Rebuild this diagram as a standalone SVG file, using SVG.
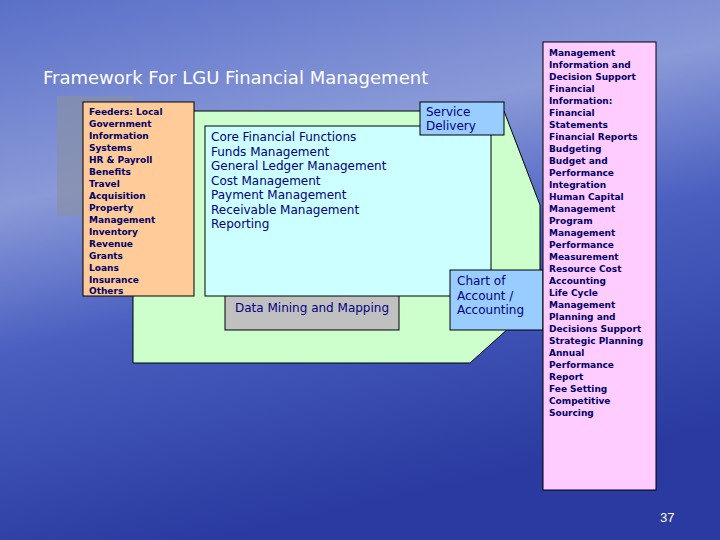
<svg xmlns="http://www.w3.org/2000/svg" width="720" height="540" viewBox="0 0 720 540">
<defs>
<linearGradient id="bg" x1="0" y1="0" x2="0.3" y2="1">
<stop offset="0" stop-color="#5a6fc8"/><stop offset="0.35" stop-color="#8a9ad8"/><stop offset="0.6" stop-color="#4a5fc0"/><stop offset="1" stop-color="#2a3aa0"/>
</linearGradient>
<style>
.b{stroke:#000;stroke-width:1}
.s{font-family:"DejaVu Sans",Verdana,sans-serif;font-size:9px;font-weight:bold;fill:#000066}
.m{font-family:"DejaVu Sans",Verdana,sans-serif;font-size:12px;fill:#000080}
</style>
</defs>
<rect width="720" height="540" fill="url(#bg)"/>
<text x="43" y="84" font-family="DejaVu Sans,sans-serif" font-size="18" fill="#fff">Framework For LGU Financial Management</text>
<g id="shadow"><rect x="57" y="96" width="76" height="120" fill="#8890a8" opacity="0.7"/></g>
<g id="green"><polygon class="b" points="133,111 504,111 540,205 540,300 470,363 133,363" fill="#ccffcc"/></g>
<g id="feeders"><rect class="b" x="83" y="102" width="111" height="194" fill="#ffcc99"/>
<text class="s"><tspan x="89" y="115">Feeders:  Local</tspan><tspan x="89" y="127">Government</tspan><tspan x="89" y="139">Information</tspan><tspan x="89" y="151">Systems</tspan><tspan x="89" y="163">HR &amp; Payroll</tspan><tspan x="89" y="175">Benefits</tspan><tspan x="89" y="187">Travel</tspan><tspan x="89" y="199">Acquisition</tspan><tspan x="89" y="211">Property</tspan><tspan x="89" y="223">Management</tspan><tspan x="89" y="235">Inventory</tspan><tspan x="89" y="247">Revenue</tspan><tspan x="89" y="259">Grants</tspan><tspan x="89" y="271">Loans</tspan><tspan x="89" y="283">Insurance</tspan><tspan x="89" y="294">Others</tspan></text></g>
<g id="datamining"><rect class="b" x="225" y="290" width="174" height="40" fill="#c0c0c0"/>
<text class="m" x="235" y="312">Data Mining and Mapping</text></g>
<g id="core"><rect class="b" x="205" y="126" width="286" height="170" fill="#ccffff"/>
<text class="m"><tspan x="211" y="141">Core Financial Functions</tspan><tspan x="211" y="156">Funds Management</tspan><tspan x="211" y="170">General Ledger Management</tspan><tspan x="211" y="185">Cost Management</tspan><tspan x="211" y="199">Payment Management</tspan><tspan x="211" y="214">Receivable Management</tspan><tspan x="211" y="228">Reporting</tspan></text></g>
<g id="service"><rect class="b" x="420" y="102" width="84" height="33" fill="#99ccff"/>
<text class="m"><tspan x="426" y="116">Service</tspan><tspan x="426" y="130">Delivery</tspan></text></g>
<g id="chart"><rect class="b" x="450" y="270" width="93" height="60" fill="#99ccff"/>
<text class="m"><tspan x="457" y="285">Chart of</tspan><tspan x="457" y="300">Account /</tspan><tspan x="457" y="314">Accounting</tspan></text></g>
<g id="mis"><rect class="b" x="543" y="42" width="113" height="448" fill="#ffccff"/>
<text class="s"><tspan x="549" y="56">Management</tspan><tspan x="549" y="68">Information and</tspan><tspan x="549" y="80">Decision Support</tspan><tspan x="549" y="92">Financial</tspan><tspan x="549" y="104">Information:</tspan><tspan x="549" y="116">Financial</tspan><tspan x="549" y="128">Statements</tspan><tspan x="549" y="140">Financial Reports</tspan><tspan x="549" y="152">Budgeting</tspan><tspan x="549" y="164">Budget and</tspan><tspan x="549" y="176">Performance</tspan><tspan x="549" y="188">Integration</tspan><tspan x="549" y="200">Human Capital</tspan><tspan x="549" y="212">Management</tspan><tspan x="549" y="224">Program</tspan><tspan x="549" y="236">Management</tspan><tspan x="549" y="248">Performance</tspan><tspan x="549" y="260">Measurement</tspan><tspan x="549" y="272">Resource Cost</tspan><tspan x="549" y="284">Accounting</tspan><tspan x="549" y="296">Life Cycle</tspan><tspan x="549" y="308">Management</tspan><tspan x="549" y="320">Planning and</tspan><tspan x="549" y="332">Decisions Support</tspan><tspan x="549" y="344">Strategic Planning</tspan><tspan x="549" y="356">Annual</tspan><tspan x="549" y="368">Performance</tspan><tspan x="549" y="380">Report</tspan><tspan x="549" y="392">Fee Setting</tspan><tspan x="549" y="404">Competitive</tspan><tspan x="549" y="416">Sourcing</tspan></text></g>
<g id="connectors"/>
<text x="660" y="522" font-family="Liberation Sans,sans-serif" font-size="13" fill="#fff">37</text>
</svg>
